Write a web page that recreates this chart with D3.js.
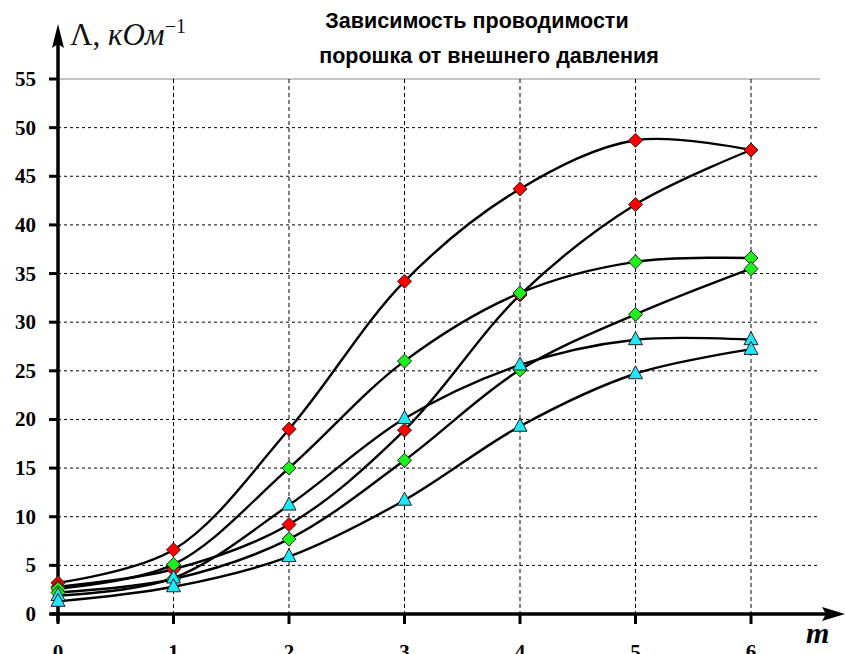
<!DOCTYPE html>
<html><head><meta charset="utf-8">
<script src="https://cdn.jsdelivr.net/npm/d3@7"></script>
<style>body{margin:0;background:#fff}svg{display:block}</style>
</head><body>
<svg id="c" width="845" height="654"></svg>
<script>
const xCats = [0, 1, 2, 3, 4, 5, 6];
const yTicks = [0, 5, 10, 15, 20, 25, 30, 35, 40, 45, 50, 55];
const redA   = [3.2, 6.6, 19.0, 34.2, 43.7, 48.7, 47.7];
const redB   = [2.8, 4.6, 9.2, 18.9, 32.8, 42.1, 47.7];
const greenA = [2.6, 5.1, 15.0, 26.0, 33.0, 36.2, 36.6];
const greenB = [2.2, 3.6, 7.7, 15.8, 25.1, 30.8, 35.5];
const cyanA  = [1.9, 3.7, 11.2, 20.1, 25.6, 28.2, 28.2];
const cyanB  = [1.3, 2.8, 5.9, 11.7, 19.3, 24.7, 27.2];
const titleLines = ["Зависимость проводимости", "порошка от внешнего давления"];

const series = [
  {v: redA, c: "#ff0000", m: "d"}, {v: redB, c: "#ff0000", m: "d"},
  {v: greenA, c: "#1ef01e", m: "d"}, {v: greenB, c: "#1ef01e", m: "d"},
  {v: cyanA, c: "#1ee8f8", m: "t"}, {v: cyanB, c: "#1ee8f8", m: "t"}
];

const svg = d3.select("#c");
const x = d3.scaleLinear().domain([0, 6]).range([58, 751]);
const y = d3.scaleLinear().domain([0, 55]).range([614, 79]);
const xEnd = 820;

// grid
const g = svg.append("g");
g.selectAll(".hg").data(yTicks.filter(d => d > 0 && d < 55)).join("line")
  .attr("x1", x(0)).attr("x2", xEnd).attr("y1", d => y(d)).attr("y2", d => y(d))
  .attr("stroke", "#000").attr("stroke-width", 1).attr("stroke-dasharray", "3,3");
g.append("line").attr("x1", x(0)).attr("x2", xEnd).attr("y1", y(55)).attr("y2", y(55))
  .attr("stroke", "#888").attr("stroke-width", 1.2);
g.selectAll(".vg").data(xCats.filter(d => d > 0)).join("line")
  .attr("x1", d => x(d)).attr("x2", d => x(d)).attr("y1", y(55)).attr("y2", y(0))
  .attr("stroke", "#000").attr("stroke-width", 1).attr("stroke-dasharray", "4,3");

// axes
svg.append("line").attr("x1", 50).attr("x2", 828).attr("y1", y(0)).attr("y2", y(0))
  .attr("stroke", "#000").attr("stroke-width", 3.5);
svg.append("path").attr("d", `M845,${y(0)} L822,${y(0)-7} L826,${y(0)} L822,${y(0)+7} Z`).attr("fill", "#000");
svg.append("line").attr("x1", x(0)).attr("x2", x(0)).attr("y1", 622).attr("y2", 40)
  .attr("stroke", "#000").attr("stroke-width", 3.5);
svg.append("path").attr("d", `M${x(0)},24 L${x(0)-6},48 L${x(0)},44 L${x(0)+6},48 Z`).attr("fill", "#000");

// ticks
svg.selectAll(".yt").data(yTicks).join("line")
  .attr("x1", 49).attr("x2", x(0)).attr("y1", d => y(d)).attr("y2", d => y(d))
  .attr("stroke", "#000").attr("stroke-width", 3);
svg.selectAll(".xt").data(xCats).join("line")
  .attr("x1", d => x(d)).attr("x2", d => x(d)).attr("y1", y(0)).attr("y2", 624)
  .attr("stroke", "#000").attr("stroke-width", 3);

svg.selectAll(".yl").data(yTicks).join("text")
  .attr("x", 36).attr("y", d => y(d) + 7).attr("text-anchor", "end")
  .attr("font-family", "Liberation Serif, Times New Roman, serif").attr("font-weight", "bold")
  .attr("font-size", 21).text(d => d);
svg.selectAll(".xl").data(xCats).join("text")
  .attr("x", d => x(d)).attr("y", 659).attr("text-anchor", "middle")
  .attr("font-family", "Liberation Serif, Times New Roman, serif").attr("font-weight", "bold")
  .attr("font-size", 21).text(d => d);

// axis labels
svg.append("text").attr("x", 806).attr("y", 643)
  .attr("font-family", "Liberation Serif, Times New Roman, serif").attr("font-style", "italic")
  .attr("font-weight", "bold").attr("font-size", 30).text("m");
const yl = svg.append("text").attr("x", 70).attr("y", 45)
  .attr("font-family", "Liberation Serif, Times New Roman, serif").attr("font-size", 31).attr("fill", "#111");
yl.append("tspan").text("Λ, ");
yl.append("tspan").attr("font-style", "italic").text("кОм");
yl.append("tspan").attr("font-size", 20).attr("dy", -12).text("−1");

// title
svg.selectAll(".tt").data(titleLines).join("text")
  .attr("x", (d, i) => i === 0 ? 477 : 489).attr("y", (d, i) => i === 0 ? 28 : 63)
  .attr("text-anchor", "middle").attr("font-family", "Liberation Sans, Arial, sans-serif")
  .attr("font-weight", "bold").attr("font-size", 21.5).text(d => d);

// lines
const line = d3.line().x((d, i) => x(xCats[i])).y(d => y(d)).curve(d3.curveCatmullRom.alpha(0.5));
svg.selectAll(".ln").data(series).join("path")
  .attr("d", s => line(s.v)).attr("fill", "none").attr("stroke", "#000").attr("stroke-width", 2.4);

// markers
const diamond = "M0,-7 L7,0 L0,7 L-7,0 Z";
const tri = "M0,-8 L7,5 L-7,5 Z";
series.forEach(s => {
  svg.append("g").selectAll("path").data(s.v).join("path")
    .attr("transform", (d, i) => `translate(${x(xCats[i])},${y(d)})`)
    .attr("d", s.m === "d" ? diamond : tri)
    .attr("fill", s.c).attr("stroke", "#222").attr("stroke-width", 1);
});
</script>
</body></html>
